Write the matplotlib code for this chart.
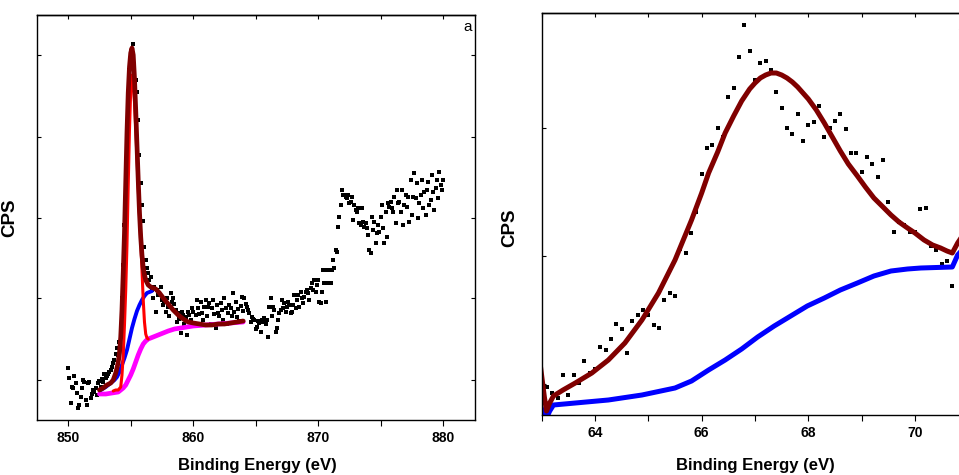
import numpy as np
import matplotlib
matplotlib.use("Agg")
import matplotlib.pyplot as plt
from matplotlib.ticker import MultipleLocator

plt.rcParams['font.family'] = ['Liberation Sans', 'DejaVu Sans']

## -- panel a : Ni 2p region (arbitrary CPS units)
a_energy = np.linspace(850.0, 880.0, 301)   # 0.1 eV scan grid
a_counts = [
    52, 42, 17, 33, 32, 44, 37, 27, 12, 15, 23, 32, 40, 38, 20, 15, 37, 38, 22, 26,
    30, 28, 32, 25, 37, 39, 33, 41, 38, 46,
    42, 44, 46, 48, 50, 53, 57, 60, 66, 72,
    65, 78, 95, 122, 155, 195, 240, 285, 325, 350,
    365, 370, 376, 355, 340, 328, 300, 265, 237, 215,
    199, 173, 160, 152, 147, 140, 143, 130, 122, 133,
    108, 130, 125, 127, 133, 120, 115, 118, 108, 122,
    113, 104, 127, 118, 122, 116, 110, 98, 107, 101,
    87, 108, 105, 96, 103, 85, 108, 105, 100, 112,
    108, 95, 105, 120, 112, 106, 118, 107, 100, 113,
    120, 104, 113, 117, 96, 112, 120, 106, 92, 115,
    107, 104, 117, 110, 100, 122, 112, 96, 107, 115,
    112, 104, 127, 108, 118, 103, 111, 99, 114, 123,
    109, 122, 116, 113, 110, 107, 98, 103, 101, 100,
    91, 93, 99, 97, 88, 100, 98, 102, 96, 100,
    83, 113, 122, 104, 113, 110, 88, 92, 100, 107,
    110, 120, 112, 117, 108, 113, 118, 115, 107, 108,
    115, 125, 112, 120, 125, 113, 128, 122, 117, 123,
    128, 130, 127, 120, 132, 137, 130, 140, 128, 135,
    140, 118, 117, 128, 150, 137, 118, 150, 137, 150,
    137, 150, 160, 152, 170, 168, 193, 203, 215, 230,
    225, 225, 223, 222, 225, 217, 218, 223, 200, 215,
    210, 208, 212, 197, 195, 212, 198, 193, 197, 192,
    185, 170, 167, 203, 190, 198, 177, 187, 195, 188,
    203, 215, 192, 177, 208, 183, 217, 213, 218, 212,
    208, 223, 197, 230, 217, 218, 208, 230, 195, 215,
    225, 213, 223, 198, 240, 205, 223, 247, 222, 237,
    202, 217, 225, 240, 212, 228, 205, 230, 238, 215,
    220, 245, 228, 210, 232, 240, 222, 248, 235, 230,
    240,
]

# fitted envelope
a_env_e = [852.5, 852.8, 853.1, 853.4, 853.6, 853.8, 853.9, 854.0, 854.1, 854.2,
           854.3, 854.4, 854.5, 854.6, 854.7, 854.8, 854.9, 855.0, 855.1, 855.2,
           855.3, 855.4, 855.5, 855.6, 855.7, 855.8, 855.9, 856.0, 856.1, 856.2,
           856.4, 856.6, 856.8, 857.0, 857.3, 857.6, 858.0, 858.4, 858.8, 859.2,
           859.6, 860.0, 860.5, 861.0, 861.5, 862.0, 862.5, 863.0, 863.5, 864.0]
a_env_v = [30, 32, 35, 37, 40, 47, 52, 58, 67, 83,
           110, 147, 187, 237, 287, 327, 353, 367, 372, 365,
           342, 310, 275, 240, 208, 183, 165, 152, 145, 140,
           135, 133, 132, 131, 127, 122, 116, 110, 105, 101,
           98, 97, 96, 95, 95, 96, 96, 97, 98, 99]

# main peak component
a_peak_e = [853.6, 853.8, 854.0, 854.2, 854.3, 854.4, 854.5, 854.6, 854.7, 854.8,
            854.9, 855.0, 855.1, 855.2, 855.3, 855.4, 855.5, 855.6, 855.7, 855.8,
            855.9, 856.0, 856.1, 856.2, 856.3, 856.4]
a_peak_v = [29, 30, 30, 33, 45, 65, 95, 130, 175, 235,
            290, 330, 345, 336, 318, 292, 262, 232, 205, 180,
            150, 120, 98, 86, 82, 81]

# satellite + background
a_sat_e = [852.6, 853.0, 853.4, 853.7, 853.9, 854.1, 854.3, 854.5, 854.7, 854.9,
           855.1, 855.3, 855.5, 855.7, 855.9, 856.1, 856.3, 856.5, 856.7]
a_sat_v = [30, 33, 37, 40, 43, 48, 55, 62, 70, 81,
           92, 101, 109, 115, 120, 124, 127, 128, 129]

# background
a_bg_e = [852.5, 853.0, 853.5, 854.0, 854.2, 854.4, 854.6, 854.8, 855.0, 855.2,
          855.4, 855.6, 855.8, 856.0, 856.2, 856.4, 856.8, 857.2, 857.6, 858.0,
          858.5, 859.0, 859.5, 860.0, 861.0, 862.0, 863.0, 864.0]
a_bg_v = [26, 26, 27, 28, 30, 32, 35, 40, 45, 51,
          58, 65, 71, 76, 79, 81, 83, 85, 87, 89,
          91, 92, 93, 94, 95, 96, 97, 98]

## -- panel b : Ni 3p region
b_energy = np.linspace(63.1, 70.8, 78)   # 0.1 eV scan grid
b_counts = [
    28, 22, 17, 40, 20, 40, 32, 54, 42, 46,
    68, 65, 76, 91, 86, 62, 94, 100, 105, 100,
    90, 87, 115, 122, 119, 166, 162, 182, 203, 241,
    267, 270, 287, 278, 318, 327, 358, 390, 364, 335,
    352, 354, 345, 323, 307, 287, 281, 301, 274, 290,
    293, 309, 278, 287, 294, 301, 286, 262, 262, 243,
    258, 251, 238, 255, 213, 183, 193, 190, 183, 183,
    206, 207, 169, 165, 151, 154, 129, 160,
]

b_env_e = [62.95, 63.0, 63.05, 63.09, 63.15, 63.22, 63.4, 63.63, 63.94, 64.25,
           64.56, 64.88, 65.19, 65.5, 65.81, 66.0, 66.13, 66.3, 66.44, 66.6,
           66.75, 66.9, 67.0, 67.1, 67.2, 67.3, 67.4, 67.5, 67.6, 67.7,
           67.8, 67.9, 68.0, 68.15, 68.3, 68.45, 68.6, 68.75, 68.92, 69.07,
           69.23, 69.4, 69.55, 69.7, 69.86, 70.0, 70.17, 70.33, 70.48, 70.6,
           70.7, 70.8, 70.9, 71.0]
b_env_v = [60, 39, 18, 4, 12, 19, 25, 32, 42, 55,
           72, 95, 122, 155, 195, 222, 242, 263, 282, 299,
           314, 326, 332, 337, 340, 342, 342, 340, 337, 333,
           328, 322, 316, 305, 292, 278, 264, 251, 239, 228,
           217, 208, 200, 193, 187, 182, 175, 170, 167, 164,
           162, 172, 180, 188]

b_bg_e = [62.95, 63.0, 63.09, 63.15, 63.22, 63.63, 64.25, 64.88, 65.5, 65.81,
          66.13, 66.44, 66.75, 67.05, 67.36, 67.67, 67.98, 68.3, 68.6, 68.92,
          69.23, 69.55, 69.86, 70.11, 70.4, 70.7, 70.8, 70.9, 71.0]
b_bg_v = [12, 6, -3, 4, 10, 12, 15, 20, 27, 34,
          45, 55, 66, 78, 89, 99, 109, 117, 125, 132,
          139, 144, 146, 147, 147.5, 148, 160, 166, 172]

maroon = '#800000'
tick_font = dict(family=['Liberation Sans', 'DejaVu Sans'], weight='bold', size=10)
lab_font = dict(family=['Liberation Sans', 'DejaVu Sans'], weight='bold', size=12)

fig = plt.figure(figsize=(9.59, 4.75), dpi=100)
ax1 = fig.add_axes([37/959, 55/475, 438/959, 405/475])
ax2 = fig.add_axes([541.7/959, 60/475, 426.6/959, 402/475])


def style(ax, major, minor, yticks):
    for s in ax.spines.values():
        s.set_linewidth(1.0)
    ax.xaxis.set_major_locator(MultipleLocator(major))
    ax.xaxis.set_minor_locator(MultipleLocator(minor))
    ax.tick_params(axis='x', which='both', direction='out', length=4, width=0.8,
                   top=False, pad=4)
    ax.set_yticks(yticks)
    ax.tick_params(axis='y', which='both', direction='in', length=3, width=0.8,
                   left=True, right=True, labelleft=False)
    for lb in ax.get_xticklabels():
        lb.set(**tick_font)
    top = ax.secondary_xaxis('top')
    top.xaxis.set_major_locator(MultipleLocator(minor))
    top.tick_params(direction='in', length=3, width=0.8, labeltop=False)
    top.spines['top'].set_linewidth(1.0)


# ---- panel a
ax1.plot(a_energy, a_counts, 's', color='black', markersize=3.0, markeredgewidth=0)
ax1.plot(a_bg_e, a_bg_v, color='#ff00ff', lw=3.4, solid_capstyle='round')
ax1.plot(a_sat_e, a_sat_v, color='#0000ff', lw=2.8, solid_capstyle='round')
ax1.plot(a_peak_e, a_peak_v, color='#ff0000', lw=2.2, solid_capstyle='round')
ax1.plot(a_env_e, a_env_v, color=maroon, lw=3.4, solid_capstyle='round')
ax1.set_xlim(847.5, 882.55)
ax1.set_ylim(0, 405)
style(ax1, 10, 5, [40, 122, 202, 283, 365])
ax1.set_xlabel('Binding Energy (eV)', **lab_font)
ax1.xaxis.set_label_coords(0.502, -0.095)
ax1.set_ylabel('CPS', weight='bold', size=13.5)
ax1.yaxis.set_label_coords(-0.043, 0.5)
ax1.text(0.993, 0.988, 'a', transform=ax1.transAxes, ha='right', va='top', fontsize=11)

# ---- panel b
ax2.plot(b_energy, b_counts, 's', color='black', markersize=2.8, markeredgewidth=0)
ax2.plot(b_bg_e, b_bg_v, color='#0000ff', lw=3.6)
ax2.plot(b_env_e, b_env_v, color=maroon, lw=3.6)
ax2.set_xlim(63.0, 71.0)
ax2.set_ylim(0, 402)
style(ax2, 2, 1, [31, 159, 287])
ax2.set_xlabel('Binding Energy (eV)', **lab_font)
ax2.xaxis.set_label_coords(0.501, -0.107)
ax2.set_ylabel('CPS', weight='bold', size=13.5)
ax2.yaxis.set_label_coords(-0.054, 0.465)
ax2.text(0.993, 0.985, 'b', transform=ax2.transAxes, ha='right', va='top', fontsize=11)

plt.savefig('out.png', dpi=100)
